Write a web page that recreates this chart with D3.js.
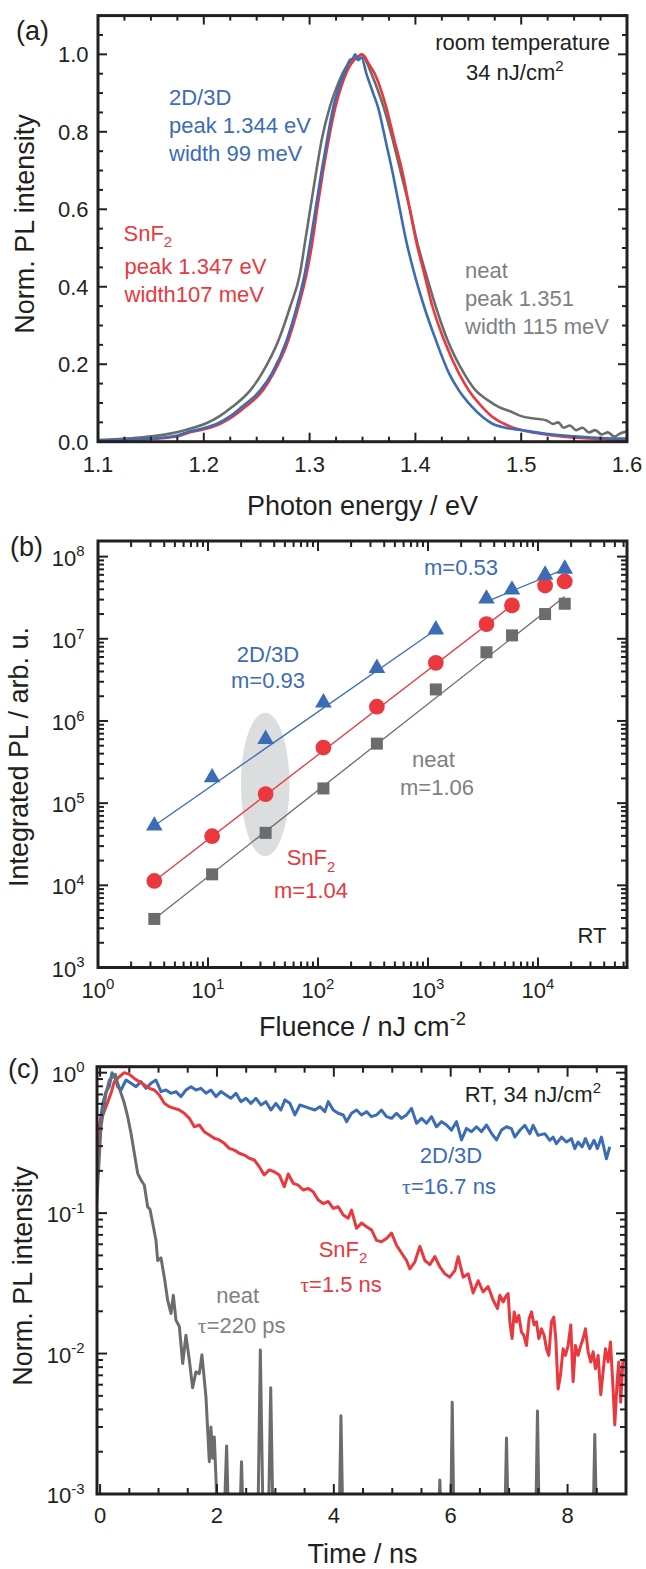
<!DOCTYPE html>
<html>
<head>
<meta charset="utf-8">
<script src="https://cdn.jsdelivr.net/npm/d3@7"></script>
<style>
  body { margin: 0; background: #fff; }
</style>
</head>
<body>
<script>
const W = 646, H = 1569
const C = {blue: '#3b6cb5', red: '#e9383e', gray: '#6b6c6e', ink: '#231f20', grayTxt: '#7f8083', blob: '#dcddde'}

// (a) PL spectra: [photon energy in eV, normalised intensity]
const specBlue = [[1.100,0.003],[1.120,0.004],[1.140,0.006],[1.160,0.010],[1.175,0.016],[1.185,0.025],[1.200,0.035],[1.213,0.047],[1.225,0.066],[1.236,0.090],[1.2535,0.133],[1.2645,0.177],[1.2785,0.263],[1.288,0.349],[1.2955,0.435],[1.301,0.521],[1.306,0.607],[1.311,0.693],[1.3165,0.779],[1.3225,0.865],[1.329,0.925],[1.334,0.960],[1.338,0.985],[1.341,0.990],[1.343,1.000],[1.346,0.985],[1.349,0.992],[1.3536,0.951],[1.360,0.900],[1.3645,0.865],[1.3717,0.779],[1.3786,0.693],[1.3848,0.607],[1.3911,0.521],[1.3989,0.435],[1.4082,0.349],[1.4192,0.263],[1.4317,0.177],[1.441,0.133],[1.4536,0.090],[1.463,0.065],[1.4724,0.047],[1.485,0.036],[1.500,0.030],[1.520,0.022],[1.540,0.016],[1.560,0.012],[1.580,0.009],[1.600,0.008]]
const specRed = [[1.100,0.002],[1.120,0.003],[1.140,0.005],[1.160,0.009],[1.175,0.014],[1.188,0.025],[1.200,0.032],[1.216,0.047],[1.228,0.066],[1.2394,0.090],[1.256,0.133],[1.266,0.177],[1.2801,0.263],[1.2895,0.349],[1.2973,0.435],[1.303,0.521],[1.3075,0.607],[1.3125,0.693],[1.318,0.779],[1.3245,0.865],[1.331,0.925],[1.337,0.965],[1.342,0.985],[1.346,0.995],[1.349,1.000],[1.352,0.995],[1.356,0.975],[1.3614,0.951],[1.3723,0.865],[1.3801,0.779],[1.388,0.693],[1.3942,0.607],[1.4004,0.521],[1.4082,0.435],[1.4161,0.349],[1.427,0.263],[1.441,0.177],[1.4504,0.133],[1.463,0.090],[1.472,0.066],[1.4833,0.047],[1.500,0.030],[1.520,0.020],[1.540,0.013],[1.560,0.009],[1.580,0.006],[1.590,0.004],[1.600,0.005]]
const specNeat = [[1.100,0.004],[1.120,0.007],[1.140,0.011],[1.160,0.017],[1.1754,0.025],[1.190,0.036],[1.2019,0.047],[1.215,0.066],[1.227,0.090],[1.2441,0.133],[1.2551,0.177],[1.2708,0.263],[1.2817,0.349],[1.291,0.435],[1.296,0.521],[1.301,0.607],[1.306,0.693],[1.3114,0.779],[1.3192,0.865],[1.327,0.925],[1.334,0.965],[1.340,0.985],[1.345,0.990],[1.349,1.000],[1.353,0.985],[1.3583,0.951],[1.3698,0.865],[1.3786,0.779],[1.3864,0.693],[1.3942,0.607],[1.4011,0.521],[1.4098,0.435],[1.4192,0.349],[1.4302,0.263],[1.4458,0.177],[1.4567,0.133],[1.468,0.108],[1.4786,0.090],[1.490,0.078],[1.500,0.066],[1.512,0.060],[1.524,0.055],[1.530,0.046],[1.535,0.050],[1.540,0.036],[1.546,0.042],[1.552,0.030],[1.558,0.036],[1.564,0.024],[1.570,0.030],[1.576,0.019],[1.582,0.024],[1.588,0.013],[1.594,0.022],[1.600,0.026]]
const ticksAx = [1.1, 1.2, 1.3, 1.4, 1.5, 1.6]
const ticksAy = [0, 0.2, 0.4, 0.6, 0.8, 1.0]

// (b) integrated PL vs fluence
const fluence = [3.25, 10.9, 33.4, 112, 343, 1178, 3400, 5800, 11600, 17500]
const pl2D   = [5.3e4, 2.05e5, 6.0e5, 1.67e6, 4.4e6, 1.29e7, 3.07e7, 3.95e7, 6.0e7, 7.1e7]
const plSnF2 = [1.13e4, 3.96e4, 1.29e5, 4.75e5, 1.49e6, 5.1e6, 1.51e7, 2.55e7, 4.45e7, 4.98e7]
const plNeat = [3.9e3, 1.36e4, 4.35e4, 1.51e5, 5.3e5, 2.42e6, 6.86e6, 1.1e7, 2.0e7, 2.67e7]
// power-law fits, end points
const fits = [
  {c: 'blue', x: [3.25, 1178], y: [5.3e4, 1.29e7]},
  {c: 'blue', x: [3770, 17000], y: [3.0e7, 6.95e7]},
  {c: 'red',  x: [3.25, 5800], y: [1.13e4, 2.55e7]},
  {c: 'gray', x: [3.25, 17500], y: [3.9e3, 3.27e7]}
]
const blobX = [19.9, 55], blobY = [2.26e4, 1.26e6]
const expBx = [0, 1, 2, 3, 4]
const expBy = [3, 4, 5, 6, 7, 8]

// (c) transients: [time in ns, normalised PL]
const trBlue = [[-0.057,0.18],[-0.011,0.41],[0.044,0.60],[0.101,0.73],[0.158,0.80],[0.204,1.00],[0.261,0.91],[0.301,0.795],[0.358,0.753],[0.443,0.887],[0.529,0.84],[0.614,0.795],[0.70,0.863],[0.785,0.774],[0.871,0.84],[0.956,0.887],[1.042,0.733],[1.127,0.753],[1.213,0.713],[1.298,0.733],[1.384,0.675],[1.469,0.753],[1.555,0.795],[1.64,0.753],[1.726,0.774],[1.812,0.713],[1.897,0.753],[1.983,0.675],[2.068,0.733],[2.154,0.694],[2.239,0.657],[2.325,0.713],[2.41,0.622],[2.496,0.657],[2.581,0.605],[2.667,0.657],[2.752,0.589],[2.838,0.622],[2.923,0.542],[3.009,0.605],[3.094,0.542],[3.163,0.64],[3.248,0.605],[3.334,0.50],[3.419,0.589],[3.505,0.573],[3.59,0.557],[3.676,0.542],[3.762,0.573],[3.847,0.528],[3.904,0.622],[3.99,0.542],[4.075,0.514],[4.161,0.50],[4.218,0.448],[4.303,0.514],[4.389,0.542],[4.474,0.50],[4.56,0.528],[4.645,0.486],[4.731,0.50],[4.816,0.542],[4.902,0.486],[4.988,0.473],[5.073,0.514],[5.159,0.473],[5.244,0.50],[5.33,0.557],[5.415,0.436],[5.501,0.473],[5.586,0.436],[5.672,0.486],[5.757,0.412],[5.843,0.448],[5.928,0.424],[6.014,0.39],[6.099,0.448],[6.185,0.332],[6.27,0.401],[6.356,0.38],[6.441,0.412],[6.527,0.38],[6.613,0.424],[6.698,0.37],[6.784,0.332],[6.869,0.39],[6.955,0.412],[7.04,0.399],[7.097,0.348],[7.183,0.389],[7.268,0.422],[7.354,0.368],[7.411,0.422],[7.496,0.358],[7.61,0.368],[7.696,0.33],[7.753,0.348],[7.81,0.312],[7.895,0.348],[7.981,0.321],[8.066,0.339],[8.123,0.288],[8.18,0.321],[8.249,0.296],[8.306,0.339],[8.38,0.288],[8.454,0.33],[8.511,0.288],[8.58,0.348],[8.665,0.244],[8.722,0.296]]
const trRed = [[-0.057,0.314],[0.015,0.46],[0.101,0.573],[0.186,0.713],[0.243,0.863],[0.329,0.935],[0.414,1.0],[0.50,0.972],[0.586,0.91],[0.671,0.863],[0.757,0.817],[0.842,0.774],[0.928,0.753],[1.013,0.694],[1.099,0.605],[1.184,0.573],[1.27,0.557],[1.356,0.542],[1.441,0.514],[1.527,0.473],[1.612,0.412],[1.698,0.424],[1.783,0.38],[1.869,0.36],[1.954,0.341],[2.04,0.332],[2.125,0.314],[2.211,0.289],[2.296,0.281],[2.382,0.267],[2.467,0.259],[2.553,0.246],[2.638,0.239],[2.724,0.214],[2.809,0.187],[2.895,0.203],[2.98,0.197],[3.066,0.187],[3.152,0.154],[3.22,0.19],[3.305,0.163],[3.391,0.158],[3.476,0.146],[3.562,0.15],[3.647,0.142],[3.733,0.124],[3.819,0.117],[3.904,0.121],[3.99,0.108],[4.075,0.111],[4.161,0.097],[4.246,0.092],[4.303,0.105],[4.389,0.078],[4.474,0.085],[4.56,0.080],[4.645,0.076],[4.731,0.064],[4.816,0.0625],[4.902,0.066],[4.988,0.072],[5.073,0.059],[5.159,0.052],[5.244,0.046],[5.301,0.040],[5.387,0.045],[5.472,0.058],[5.558,0.046],[5.643,0.043],[5.729,0.049],[5.814,0.0415],[5.90,0.037],[5.985,0.035],[6.071,0.039],[6.128,0.049],[6.213,0.035],[6.299,0.037],[6.384,0.027],[6.47,0.033],[6.555,0.0275],[6.641,0.030],[6.727,0.024],[6.801,0.0209],[6.841,0.026],[6.898,0.0233],[6.955,0.026],[6.983,0.0267],[7.012,0.0168],[7.051,0.0128],[7.086,0.0198],[7.126,0.0168],[7.166,0.0187],[7.211,0.0142],[7.251,0.0135],[7.297,0.0114],[7.342,0.0177],[7.382,0.0198],[7.428,0.016],[7.468,0.0168],[7.508,0.0128],[7.553,0.015],[7.599,0.0135],[7.639,0.0108],[7.679,0.0097],[7.724,0.0168],[7.764,0.0182],[7.798,0.0128],[7.838,0.0056],[7.878,0.007],[7.924,0.0108],[7.964,0.0097],[8.009,0.0114],[8.055,0.016],[8.095,0.0063],[8.135,0.0114],[8.18,0.0097],[8.226,0.0114],[8.266,0.0128],[8.306,0.015],[8.352,0.0103],[8.397,0.0087],[8.437,0.0103],[8.477,0.0078],[8.523,0.0097],[8.568,0.0051],[8.608,0.0074],[8.648,0.0108],[8.694,0.0087],[8.734,0.0121],[8.779,0.0056],[8.808,0.0031],[8.848,0.0063],[8.876,0.0087],[8.91,0.0045],[8.945,0.0087],[8.979,0.0092]]
const trNeat = [[-0.057,0.118],[0.015,0.41],[0.101,0.713],[0.158,0.887],[0.215,0.935],[0.261,0.972],[0.301,0.84],[0.358,0.713],[0.415,0.605],[0.472,0.486],[0.529,0.37],[0.586,0.267],[0.643,0.192],[0.70,0.172],[0.757,0.158],[0.814,0.111],[0.854,0.106],[0.90,0.085],[0.956,0.064],[0.985,0.046],[1.042,0.048],[1.099,0.035],[1.156,0.024],[1.213,0.0193],[1.253,0.026],[1.298,0.0173],[1.356,0.0156],[1.413,0.0085],[1.469,0.0135],[1.527,0.009],[1.583,0.0057],[1.64,0.0074],[1.698,0.0072],[1.743,0.0098],[1.812,0.0049],[1.869,0.0017],[1.897,0.003],[1.926,0.0018],[1.954,0.00255],[1.983,0.0013],[2.011,0.0006],
  [2.12,0.0006],[2.165,0.0022],[2.20,0.0006],[2.39,0.0006],[2.42,0.0017],[2.45,0.0006],[2.70,0.0006],[2.742,0.0106],[2.79,0.0006],[2.88,0.0006],[2.92,0.0057],[2.96,0.0006],[4.09,0.0006],[4.122,0.0036],[4.155,0.0006],[5.79,0.0006],[5.814,0.00126],[5.84,0.0006],[6.00,0.0006],[6.026,0.0045],[6.055,0.0006],[6.925,0.0006],[6.955,0.0025],[6.985,0.0006],[7.455,0.0006],[7.485,0.0039],[7.515,0.0006],[8.436,0.0006],[8.466,0.00265],[8.496,0.0006],[9.0,0.0006]]
const ticksCx = [0, 2, 4, 6, 8]
const expCy = [0, -1, -2, -3]

const FONT = '"Liberation Sans", Arial, Helvetica, sans-serif'
const svg = d3.select('body').append('svg')
    .attr('width', W)
    .attr('height', H)
    .style('font-family', FONT)

// text with optional super/subscripts and a serif tau
function txt(g, x, y, parts, o = {}) {
  const fs = o.fs || 22
  const t = g.append('text')
      .attr('x', x).attr('y', y)
      .attr('font-size', fs)
      .attr('fill', o.fill || C.ink)
      .attr('text-anchor', o.anchor || 'start')
  if (o.rotate) t.attr('transform', `rotate(${o.rotate},${x},${y})`)
  let shift = 0
  ;[].concat(parts).forEach(p => {
    const q = typeof p === 'string' ? {t: p} : p
    const want = q.sup ? -0.42 * fs : q.sub ? 0.3 * fs : 0
    const s = t.append('tspan').attr('dy', want - shift).text(q.sup || q.sub || q.t)
    if (q.sup || q.sub) s.attr('font-size', fs * 0.68)
    if (q.serif) s.attr('font-family', '"Liberation Serif", "DejaVu Serif", serif')
    shift = want
  })
  return t
}

function clip(id, x, y) {
  const [x0, x1] = x.range(), [y0, y1] = y.range()
  svg.append('clipPath').attr('id', id)
    .append('rect').attr('x', x0).attr('y', y1).attr('width', x1 - x0).attr('height', y0 - y1)
}

// inward ticks on all four sides; xt/yt are lists of [value, isMajor]
function ticks(g, x, y, xt, yt, big, small) {
  const [x0, x1] = x.range(), [y0, y1] = y.range()
  const seg = []
  xt.forEach(([v, m]) => {
    const px = x(v), l = m ? big : small
    seg.push([px, y0, px, y0 - l], [px, y1, px, y1 + l])
  })
  yt.forEach(([v, m]) => {
    const py = y(v), l = m ? big : small
    seg.push([x0, py, x0 + l, py], [x1, py, x1 - l, py])
  })
  g.selectAll(null).data(seg).enter().append('line')
      .attr('x1', d => d[0]).attr('y1', d => d[1])
      .attr('x2', d => d[2]).attr('y2', d => d[3])
      .attr('stroke', C.ink).attr('stroke-width', 2)
  g.append('rect')
      .attr('x', x0).attr('y', y1).attr('width', x1 - x0).attr('height', y0 - y1)
      .attr('fill', 'none').attr('stroke', C.ink).attr('stroke-width', 3)
}

function linTicks(major, lo, hi, step) {
  return d3.range(lo, hi + step / 2, step).map(v => [v, major.some(m => Math.abs(m - v) < 1e-6)])
}
function logTicks(lo, hi) {
  const out = []
  for (let e = Math.floor(Math.log10(lo)); e <= Math.ceil(Math.log10(hi)); e++) {
    for (let m = 1; m < 10; m++) {
      const v = m * Math.pow(10, e)
      if (v >= lo * 0.999 && v <= hi) out.push([v, m === 1])
    }
  }
  return out
}

// ---------------- (a) ----------------
const xa = d3.scaleLinear().domain([1.1, 1.6]).range([98, 627])
const ya = d3.scaleLinear().domain([0, 1.1]).range([441.7, 15.6])
const ga = svg.append('g')
clip('clipA', xa, ya)
const lineA = d3.line().x(d => xa(d[0])).y(d => ya(d[1])).curve(d3.curveMonotoneX)
;[[specNeat, C.gray], [specRed, C.red], [specBlue, C.blue]].forEach(([d, c]) => {
  ga.append('path').datum(d)
      .attr('d', lineA)
      .attr('fill', 'none').attr('stroke', c).attr('stroke-width', 2.6)
      .attr('clip-path', 'url(#clipA)')
})
ticks(ga, xa, ya, linTicks(ticksAx, 1.1, 1.6, 0.025), linTicks(ticksAy, 0, 1.1, 0.05), 9, 5)
ticksAx.forEach(v => txt(ga, xa(v), 471.7, v.toFixed(1), {anchor: 'middle'}))
ticksAy.forEach(v => txt(ga, 88.6, ya(v) + 8, v.toFixed(1), {anchor: 'end'}))
txt(ga, 362.5, 515, 'Photon energy / eV', {fs: 27, anchor: 'middle'})
txt(ga, 34, 224, 'Norm. PL intensity', {fs: 27, anchor: 'middle', rotate: -90})
txt(ga, 16, 40, '(a)', {fs: 27})
txt(ga, 610, 50, 'room temperature', {anchor: 'end'})
txt(ga, 466, 80, ['34 nJ/cm', {sup: '2'}])
txt(ga, 169, 105, '2D/3D', {fill: C.blue})
txt(ga, 169, 133, 'peak 1.344 eV', {fill: C.blue})
txt(ga, 169, 160.5, 'width 99 meV', {fill: C.blue})
txt(ga, 123.5, 240.5, ['SnF', {sub: '2'}], {fill: C.red})
txt(ga, 124.5, 274, 'peak 1.347 eV', {fill: C.red})
txt(ga, 124.5, 301.5, 'width107 meV', {fill: C.red})
txt(ga, 465, 278, 'neat', {fill: C.grayTxt})
txt(ga, 465, 306, 'peak 1.351', {fill: C.grayTxt})
txt(ga, 465, 333.5, 'width 115 meV', {fill: C.grayTxt})

// ---------------- (b) ----------------
const xb = d3.scaleLog().domain([1, Math.pow(10, 529 / 110)]).range([98, 627])
const yb = d3.scaleLog().domain([1e3, Math.pow(10, 8.19)]).range([967.5, 541])
const gb = svg.append('g')
clip('clipB', xb, yb)

gb.append('ellipse')
    .attr('cx', (xb(blobX[0]) + xb(blobX[1])) / 2)
    .attr('cy', (yb(blobY[0]) + yb(blobY[1])) / 2)
    .attr('rx', (xb(blobX[1]) - xb(blobX[0])) / 2)
    .attr('ry', (yb(blobY[0]) - yb(blobY[1])) / 2)
    .attr('fill', C.blob)

gb.selectAll('.fit').data(fits).enter().append('line')
    .attr('x1', d => xb(d.x[0])).attr('y1', d => yb(d.y[0]))
    .attr('x2', d => xb(d.x[1])).attr('y2', d => yb(d.y[1]))
    .attr('stroke', d => C[d.c]).attr('stroke-width', 1.3)

const sets = [
  {v: plNeat, c: C.gray, sym: d3.symbolSquare, size: 144},
  {v: plSnF2, c: C.red, sym: d3.symbolCircle, size: 195},
  {v: pl2D, c: C.blue, sym: d3.symbolTriangle, size: 120}
]
sets.forEach(s => {
  gb.selectAll(null).data(fluence).enter().append('path')
      .attr('d', d3.symbol().type(s.sym).size(s.size))
      .attr('transform', (f, i) => `translate(${xb(f)},${yb(s.v[i])})`)
      .attr('fill', s.c)
})
ticks(gb, xb, yb, logTicks(1, xb.domain()[1]), logTicks(1e3, yb.domain()[1]), 10, 6)
expBx.forEach(e => txt(gb, xb(Math.pow(10, e)), 998, ['10', {sup: String(e)}], {anchor: 'middle'}))
expBy.forEach(e => txt(gb, 84.5, yb(Math.pow(10, e)) + 9, ['10', {sup: String(e)}], {anchor: 'end'}))
txt(gb, 362.5, 1036, ['Fluence / nJ cm', {sup: '-2'}], {fs: 27, anchor: 'middle'})
txt(gb, 27.5, 757, 'Integrated PL / arb. u.', {fs: 27, anchor: 'middle', rotate: -90})
txt(gb, 10, 556, '(b)', {fs: 27})
txt(gb, 424, 575, 'm=0.53', {fill: C.blue})
txt(gb, 268, 661.5, '2D/3D', {fill: C.blue, anchor: 'middle'})
txt(gb, 268, 687.5, 'm=0.93', {fill: C.blue, anchor: 'middle'})
txt(gb, 433.5, 766.5, 'neat', {fill: C.grayTxt, anchor: 'middle'})
txt(gb, 437, 795, 'm=1.06', {fill: C.grayTxt, anchor: 'middle'})
txt(gb, 311, 865, ['SnF', {sub: '2'}], {fill: C.red, anchor: 'middle'})
txt(gb, 311, 898, 'm=1.04', {fill: C.red, anchor: 'middle'})
txt(gb, 606.5, 943, 'RT', {anchor: 'end'})

// ---------------- (c) ----------------
const xc = d3.scaleLinear().domain([-0.053, 9.0]).range([97, 626])
const yc = d3.scaleLog().domain([1e-3, 1.103]).range([1494, 1066.7])
const gc = svg.append('g')
clip('clipC', xc, yc)
const lineC = d3.line().x(d => xc(d[0])).y(d => yc(d[1]))
;[[trBlue, C.blue], [trRed, C.red], [trNeat, C.gray]].forEach(([d, c]) => {
  gc.append('path').datum(d)
      .attr('d', lineC)
      .attr('fill', 'none').attr('stroke', c).attr('stroke-width', 3)
      .attr('stroke-linejoin', 'round')
      .attr('clip-path', 'url(#clipC)')
})
ticks(gc, xc, yc, linTicks(ticksCx, 0, 9, 0.5), logTicks(1e-3, 1.103), 10, 6)
ticksCx.forEach(v => txt(gc, xc(v), 1523, String(v), {anchor: 'middle'}))
expCy.forEach(e => txt(gc, 84.5, yc(Math.pow(10, e)) + 9, ['10', {sup: String(e)}], {anchor: 'end'}))
txt(gc, 362.5, 1563, 'Time / ns', {fs: 27, anchor: 'middle'})
txt(gc, 31.5, 1276, 'Norm. PL intensity', {fs: 27, anchor: 'middle', rotate: -90})
txt(gc, 8, 1078, '(c)', {fs: 27})
txt(gc, 601, 1102, ['RT, 34 nJ/cm', {sup: '2'}], {anchor: 'end'})
txt(gc, 451, 1163.3, '2D/3D', {fill: C.blue, anchor: 'middle'})
txt(gc, 449, 1194.3, [{t: 'τ', serif: true}, '=16.7 ns'], {fill: C.blue, anchor: 'middle'})
txt(gc, 343, 1256.7, ['SnF', {sub: '2'}], {fill: C.red, anchor: 'middle'})
txt(gc, 341, 1291.7, [{t: 'τ', serif: true}, '=1.5 ns'], {fill: C.red, anchor: 'middle'})
txt(gc, 237.7, 1302.7, 'neat', {fill: C.grayTxt, anchor: 'middle'})
txt(gc, 241.7, 1333.3, [{t: 'τ', serif: true}, '=220 ps'], {fill: C.grayTxt, anchor: 'middle'})
</script>
</body>
</html>
